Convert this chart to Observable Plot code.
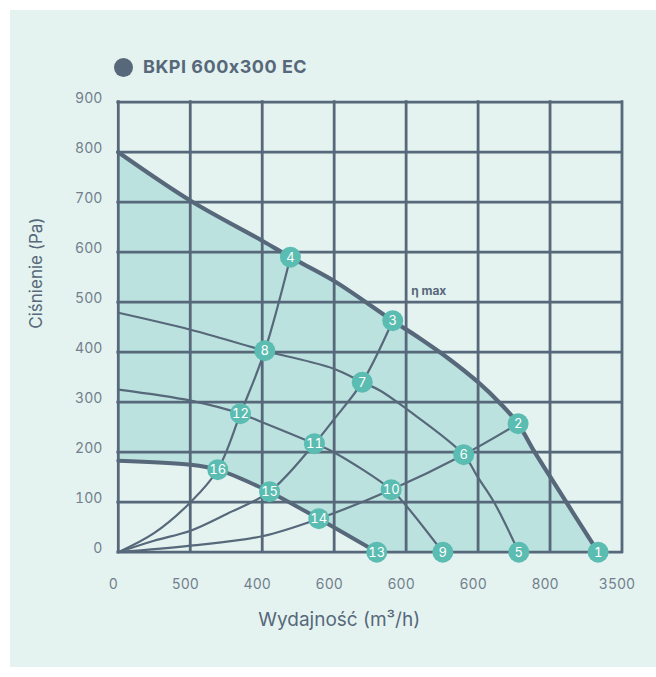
<!DOCTYPE html>
<html lang="pl">
<head>
<meta charset="utf-8">
<script src="https://cdn.jsdelivr.net/npm/d3@7"></script>
<script src="https://cdn.jsdelivr.net/npm/@observablehq/plot@0.6"></script>
<style>
  html, body { margin: 0; padding: 0; background: #ffffff; }
  #page { position: relative; width: 656px; height: 677px; overflow: hidden; font-family: Inter, "Open Sans", sans-serif; }
  #panel { position: absolute; left: 10px; top: 10px; width: 646px; height: 657px; background: #e5f3f0; }
  #legend { position: absolute; left: 114px; top: 57px; display: flex; align-items: center; height: 20px; }
  #legend .swatch { width: 19px; height: 19px; border-radius: 50%; background: #56687a; margin-right: 10px; }
  #legend .name { font-weight: 700; font-size: 18px; line-height: 18px; color: #56687a; letter-spacing: 0.5px; }
  #chart { position: absolute; left: 0; top: 0; }
</style>
</head>
<body>
<div id="page">
  <div id="panel"></div>
  <div id="chart"></div>
  <div id="legend"><div class="swatch"></div><div class="name">BKPI 600x300 EC</div></div>
</div>
<script>
// Axis ticks
const flowTicks = [0, 500, 1000, 1500, 2000, 2500, 3000, 3500];
const flowTickLabels = ["0", "500", "400", "600", "600", "600", "800", "3500"];
const pressureTicks = [0, 100, 200, 300, 400, 500, 600, 700, 800, 900];

// Fan curves at four speed settings: airflow (m³/h) and static pressure (Pa)
const maxFlow     = [0, 502, 1000, 1196, 1497, 1907, 2099, 2287, 2496, 2656, 2778, 2887, 3003, 3334];
const maxPressure = [800, 703, 623, 590, 543, 463, 427, 389, 341, 297, 257, 203, 150, 0];
const highFlow     = [0, 502, 1018, 1497, 1695, 1821, 2000, 2400, 2498, 2611, 2783];
const highPressure = [479, 445, 403, 367, 340, 323, 287, 195, 150, 100, 0];
const lowFlow     = [0, 502, 849, 1000, 1363, 1497, 1896, 2000, 2255];
const lowPressure = [325, 303, 277, 260, 217, 200, 125, 93, 0];
const minFlow     = [0, 502, 691, 1000, 1051, 1393, 1798];
const minPressure = [183, 175, 165, 128, 121, 67, 0];

// System (duct) curves from the origin
const sysAFlow     = [0, 248, 502, 691, 849, 1018, 1196];
const sysAPressure = [0, 38, 100, 165, 277, 403, 590];
const sysBFlow     = [0, 248, 502, 757, 1051, 1363, 1497, 1695, 1907];
const sysBPressure = [0, 23, 43, 77, 121, 217, 265, 340, 463];
const sysCFlow     = [0, 502, 1000, 1393, 1896, 2400, 2778];
const sysCPressure = [0, 13, 32, 67, 125, 195, 257];

// Numbered operating points
const pointIds       = [1, 2, 3, 4, 5, 6, 7, 8, 9, 10, 11, 12, 13, 14, 15, 16];
const pointFlow      = [3334, 2778, 1907, 1196, 2783, 2400, 1695, 1018, 2255, 1896, 1363, 849, 1796, 1393, 1051, 691];
const pointPressure  = [0, 257, 463, 590, 0, 195, 340, 403, 0, 125, 217, 277, 0, 67, 121, 165];

// Peak-efficiency annotation
const etaLabel = {text: "η max", flow: 2157, pressure: 523};

const zip = (xs, ys) => xs.map((q, i) => ({q, p: ys[i]}));
const maxCurve = zip(maxFlow, maxPressure);
const highCurve = zip(highFlow, highPressure);
const lowCurve = zip(lowFlow, lowPressure);
const minCurve = zip(minFlow, minPressure);
const systemCurves = [zip(sysAFlow, sysAPressure), zip(sysBFlow, sysBPressure), zip(sysCFlow, sysCPressure)];
const points = pointIds.map((id, i) => ({id, q: pointFlow[i], p: pointPressure[i]}));

const ink = "#56687a";
const panel = "#e5f3f0";
const band = "#bce2df";
const teal = "#5bbcb1";
const tickInk = "#717f8d";
const curve = "catmull-rom";

const chart = Plot.plot({
  width: 656,
  height: 660,
  marginTop: 101.7,
  marginRight: 34.5,
  marginBottom: 108.3,
  marginLeft: 117.8,
  style: {background: "transparent", overflow: "visible", fontFamily: "Inter, 'Open Sans', sans-serif"},
  x: {domain: [0, 3500]},
  y: {domain: [0, 900]},
  marks: [
    // operating envelope between the maximum and minimum speed curves
    Plot.areaY(maxCurve, {x: "q", y: "p", curve, fill: band}),
    Plot.areaY(minCurve, {x: "q", y: "p", curve, fill: panel}),
    // grid
    Plot.ruleY(pressureTicks, {stroke: ink, strokeWidth: 2.8, strokeLinecap: "square"}),
    Plot.ruleX(flowTicks, {stroke: ink, strokeWidth: 2.8, strokeLinecap: "square"}),
    // system curves
    ...systemCurves.map(c => Plot.line(c, {x: "q", y: "p", curve, stroke: ink, strokeWidth: 2.2})),
    // intermediate speed curves
    Plot.line(highCurve, {x: "q", y: "p", curve, stroke: ink, strokeWidth: 2.2}),
    Plot.line(lowCurve, {x: "q", y: "p", curve, stroke: ink, strokeWidth: 2.2}),
    // limiting speed curves
    Plot.line(maxCurve, {x: "q", y: "p", curve, stroke: ink, strokeWidth: 4.2}),
    Plot.line(minCurve, {x: "q", y: "p", curve, stroke: ink, strokeWidth: 4}),
    // numbered points
    Plot.dot(points, {x: "q", y: "p", r: 10.5, fill: teal}),
    Plot.text(points, {x: "q", y: "p", text: "id", fill: "#ffffff", fontSize: 13, dy: 0.5}),
    Plot.text([etaLabel], {x: "flow", y: "pressure", text: "text", fill: ink, fontSize: 12, fontWeight: 700}),
    // axes
    Plot.axisY(pressureTicks, {tickSize: 0, tickPadding: 16, dy: -4, fontSize: 14, fill: tickInk, color: tickInk, label: null}),
    Plot.axisX(flowTicks, {tickSize: 0, tickPadding: 27, dx: -5, fontSize: 14, fill: tickInk, color: tickInk, label: null,
      tickFormat: d => flowTickLabels[flowTicks.indexOf(d)]}),
    Plot.text(["Ciśnienie (Pa)"], {text: d => d, frameAnchor: "left", rotate: -90, dx: -82, dy: 1.5, fontSize: 17, fill: ink}),
    Plot.text(["Wydajność (m³/h)"], {text: d => d, frameAnchor: "bottom", dx: -31, dy: 74, fontSize: 19, fill: ink})
  ]
});

document.getElementById("chart").append(chart);
</script>
</body>
</html>
